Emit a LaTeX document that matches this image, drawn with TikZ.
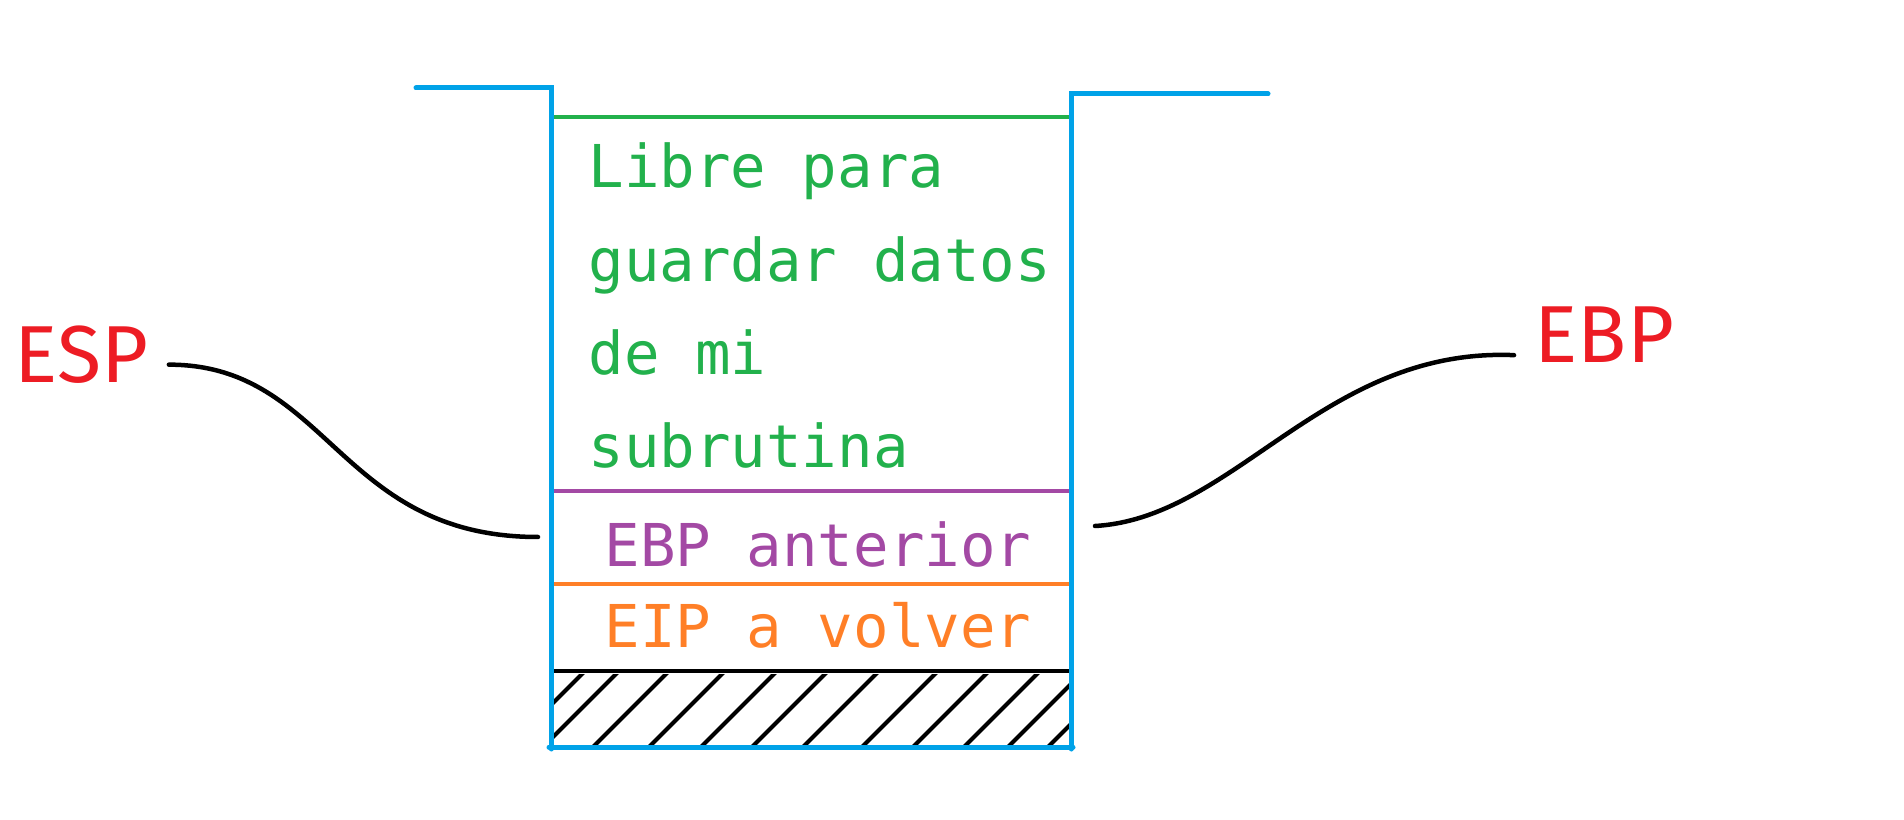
\documentclass[tikz,border=0pt]{standalone}
\usepackage{fontspec}
\newfontfamily\monofont{DejaVu Sans Mono}
\newfontfamily\regfont{Fira Sans}
\definecolor{pblue}{RGB}{0,162,232}
\definecolor{pgreen}{RGB}{34,177,76}
\definecolor{ppurple}{RGB}{163,73,164}
\definecolor{porange}{RGB}{255,127,39}
\definecolor{pred}{RGB}{237,28,36}

\begin{document}
\begin{tikzpicture}
		[
		x = 0.1mm, y = -0.1mm,
		wall/.style = {pblue, line width = 0.5mm, line cap = round},
		slot/.style = {line width = 0.42mm},
		link/.style = {black, line width = 0.45mm, line cap = round},
		txt/.style = {anchor = base west, inner sep = 0pt, font = \monofont\fontsize{16.8}{20}\selectfont},
		reg/.style = {pred, anchor = base west, inner sep = 2mm, font = \regfont\fontsize{23}{28}\selectfont},
		]
		
		\useasboundingbox (0,0) rectangle (1904,820);
		
		% zona rayada
		\begin{scope}
			\clip (551,674) rectangle (1071,747);
			\foreach \b in {509,543,593,649,701,752,803,862,913,964,1008,1048}
				\draw[slot, black, line cap = round] (\b,747) -- ++(100,-100);
		\end{scope}
		
		\draw[slot, pgreen] (551,117) -- (1071,117);
		\draw[slot, ppurple] (551,491) -- (1071,491);
		\draw[slot, porange] (551,584) -- (1071,584);
		\draw[slot, black] (551,671) -- (1069,671);
		
		\draw[wall] (416,88) -- (551,88) -- (551,749);
		\draw[wall] (1268,94) -- (1071,94) -- (1071,749);
		\draw[wall] (549,747) -- (1073,747);
		
		\foreach \t [count = \i from 0] in {Libre para, guardar datos, de mi, subrutina}
			\node[txt, pgreen] (libre\i) at (588,{188+93.3*\i}) {\t};
		\node[txt, ppurple] (ebpant) at (604,567) {EBP anterior};
		\node[txt, porange] (eip) at (604,648) {EIP a volver};
		
		\node[reg] (esp) at (-6,383) {ESP};
		\node[reg] (ebp) at (1514,363) {EBP};
		
		\coordinate (espslot) at (538,537);
		\coordinate (ebpslot) at (1095,526);
		
		\draw[link] ([yshift=-0.95mm]esp.east) .. controls +(160,0) and +(-200,0) .. (espslot);
		\draw[link] (ebpslot) .. controls +(140,-8) and +(-190,-8) .. ([yshift=-2mm]ebp.west);
		
\end{tikzpicture}
\end{document}
